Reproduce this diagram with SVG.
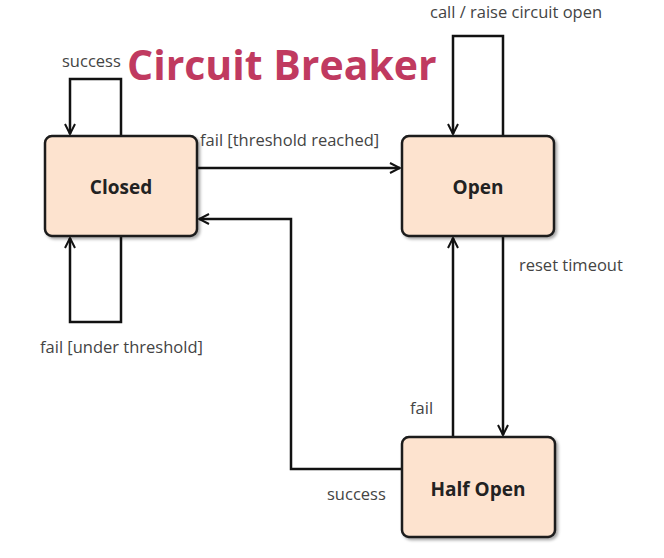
<svg xmlns="http://www.w3.org/2000/svg" width="664" height="558" viewBox="0 0 664 558">
<defs>
<marker id="arr" viewBox="0 0 12 12" refX="11" refY="6" markerWidth="12" markerHeight="12" markerUnits="userSpaceOnUse" orient="auto">
<path d="M1,1 L11,6 L1,11" fill="none" stroke="#111" stroke-width="2"/>
</marker>
<filter id="sh" x="-10%" y="-10%" width="130%" height="130%">
<feDropShadow dx="2" dy="2" stdDeviation="1.5" flood-color="#000" flood-opacity="0.35"/>
</filter>
</defs>
<style>
.node rect{fill:#fde3cf;stroke:#1a1a1a;stroke-width:2.5;filter:url(#sh)}
.node text{font-family:"Open Sans","Noto Sans",sans-serif;font-weight:bold;font-size:19px;fill:#222;text-anchor:middle}
.lbl{font-family:"Open Sans","Noto Sans",sans-serif;font-size:16.5px;fill:#444}
#connectors path{fill:none;stroke:#111;stroke-width:2.5;marker-end:url(#arr)}
.title{font-family:"Open Sans","Noto Sans",sans-serif;font-weight:bold;font-size:41px;fill:#c03a60}
</style>
<rect width="664" height="558" fill="#fff"/>
<text class="title" x="127" y="80">Circuit Breaker</text>
<g id="connectors">
<path d="M121,136 V79 H70 V134"/>
<path d="M121,236 V322 H70 V238"/>
<path d="M503,136 V36 H453 V134"/>
<path d="M197,168 H400"/>
<path d="M402,469 H291 V219 H199"/>
<path d="M453,437 V238"/>
<path d="M503,236 V435"/>
</g>
<g id="closed" class="node"><rect x="45" y="136" width="152" height="100" rx="7"/><text x="121" y="194">Closed</text></g>
<g id="open" class="node"><rect x="402" y="136" width="152" height="100" rx="7"/><text x="478" y="194">Open</text></g>
<g id="halfopen" class="node"><rect x="402" y="437" width="153" height="100" rx="7"/><text x="478" y="496">Half Open</text></g>
<text class="lbl" x="62" y="67">success</text>
<text class="lbl" x="200" y="146">fail [threshold reached]</text>
<text class="lbl" x="430" y="18">call / raise circuit open</text>
<text class="lbl" x="519" y="271">reset timeout</text>
<text class="lbl" x="40" y="353">fail [under threshold]</text>
<text class="lbl" x="410" y="414">fail</text>
<text class="lbl" x="327" y="500">success</text>
</svg>
